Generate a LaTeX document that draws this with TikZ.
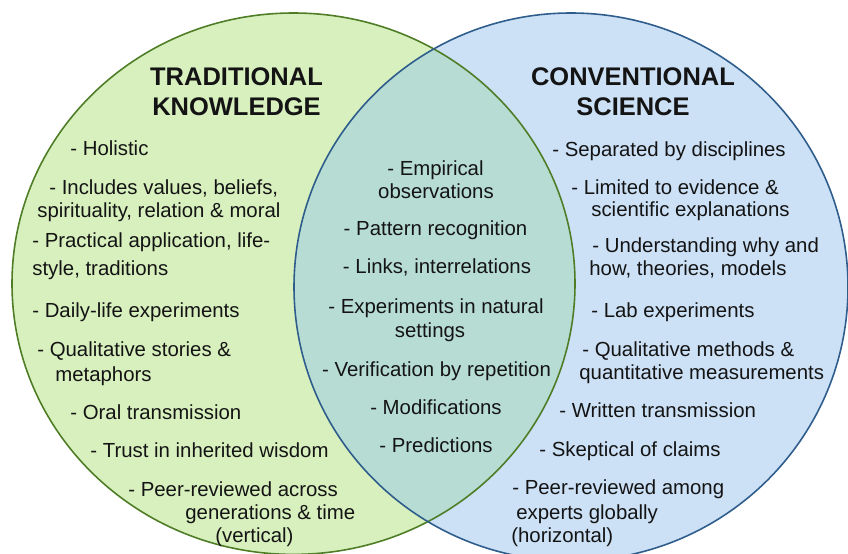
\documentclass[tikz,border=0pt]{standalone}
\usepackage{fontspec}
\setmainfont{Liberation Sans}
\usepackage{tikz}
\definecolor{tkfill}{HTML}{D8F0BE}
\definecolor{csfill}{HTML}{CCE0F6}
\definecolor{bothfill}{HTML}{B6DCD3}
\definecolor{tkedge}{HTML}{4E7D25}
\definecolor{csedge}{HTML}{2E5D8C}
\definecolor{ink}{HTML}{141414}

\begin{document}
\begin{tikzpicture}[x=0.02cm,y=-0.02cm,
  heading/.style={font=\fontsize{14.5}{17}\selectfont\bfseries, align=center, inner sep=0pt, text=ink},
  txt/.style={font=\fontsize{11.6}{13}\selectfont, anchor=west, inner sep=0pt, text height=8.3pt, text depth=0pt, text=ink},
  midtxt/.style={txt, anchor=center}]
\useasboundingbox (0,0) rectangle (848,554);
\clip (0,0) rectangle (848,554);
% the two sets
\fill[tkfill] (293.5,283.7) ellipse [x radius=281.5, y radius=270.7];
\fill[csfill] (571,287) ellipse [x radius=277, y radius=274];
\begin{scope}
\clip (293.5,283.7) ellipse [x radius=281.5, y radius=270.7];
\fill[bothfill] (571,287) ellipse [x radius=277, y radius=274];
\end{scope}
\draw[tkedge, line width=0.9pt] (293.5,283.7) ellipse [x radius=281.5, y radius=270.7];
\draw[csedge, line width=0.9pt] (571,287) ellipse [x radius=277, y radius=274];
% headings
\node[heading] (tkhead) at (236.5,92) {TRADITIONAL\\KNOWLEDGE};
\node[heading] (cshead) at (633,92) {CONVENTIONAL\\SCIENCE};
% traditional knowledge
\node[txt] (tk1) at (70,148) {- Holistic};
\node[txt] (tk2) at (49,187) {- Includes values, beliefs,};
\node[txt] (tk3) at (37,210) {spirituality, relation \& moral};
\node[txt] (tk4) at (32,240) {- Practical application, life-};
\node[txt] (tk5) at (32,268) {style, traditions};
\node[txt] (tk6) at (32,310) {- Daily-life experiments};
\node[txt] (tk7) at (37,349) {- Qualitative stories \&};
\node[txt] (tk8) at (55,374) {metaphors};
\node[txt] (tk9) at (70,412) {- Oral transmission};
\node[txt] (tk10) at (90,450) {- Trust in inherited wisdom};
\node[txt] (tk11) at (128,489) {- Peer-reviewed across};
\node[txt] (tk12) at (185,512) {generations \& time};
\node[txt] (tk13) at (215,535) {(vertical)};
% shared
\node[midtxt] (sh1) at (435.5,168) {- Empirical};
\node[midtxt] (sh2) at (436,191) {observations};
\node[midtxt] (sh3) at (435.5,228) {- Pattern recognition};
\node[midtxt] (sh4) at (437,266) {- Links, interrelations};
\node[midtxt] (sh5) at (436,306) {- Experiments in natural};
\node[midtxt] (sh6) at (430,330) {settings};
\node[midtxt] (sh7) at (436.5,369) {- Verification by repetition};
\node[midtxt] (sh8) at (436,407) {- Modifications};
\node[midtxt] (sh9) at (436,445) {- Predictions};
% conventional science
\node[txt] (cs1) at (552,149) {- Separated by disciplines};
\node[txt] (cs2) at (571,187) {- Limited to evidence \&};
\node[txt] (cs3) at (591,209) {scientific explanations};
\node[txt] (cs4) at (592,245) {- Understanding why and};
\node[txt] (cs5) at (589,268) {how, theories, models};
\node[txt] (cs6) at (591,310) {- Lab experiments};
\node[txt] (cs7) at (582,349) {- Qualitative methods \&};
\node[txt] (cs8) at (579,372) {quantitative measurements};
\node[txt] (cs9) at (559,410) {- Written transmission};
\node[txt] (cs10) at (539,449) {- Skeptical of claims};
\node[txt] (cs11) at (512,487) {- Peer-reviewed among};
\node[txt] (cs12) at (516,512) {experts globally};
\node[txt] (cs13) at (511,535) {(horizontal)};
\end{tikzpicture}
\end{document}
